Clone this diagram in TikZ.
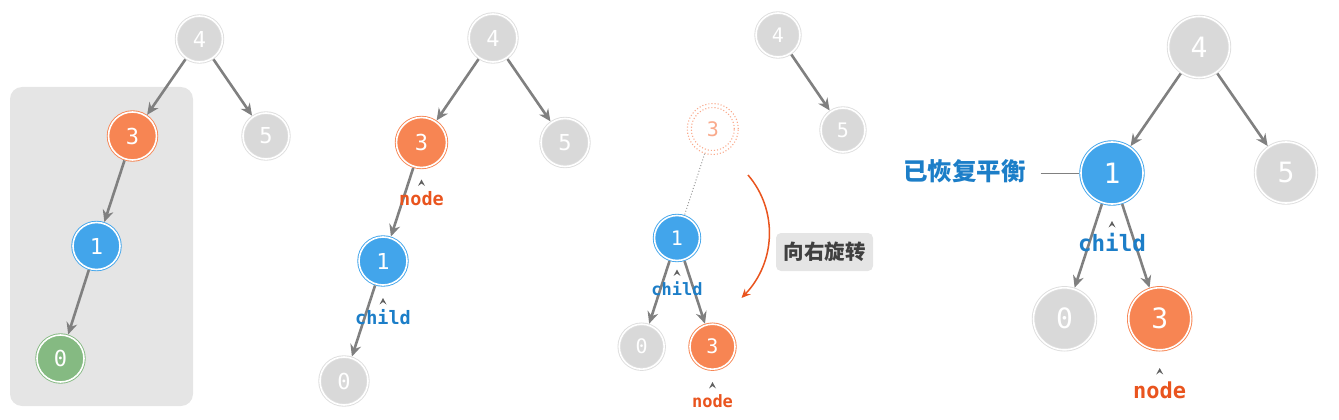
\documentclass[tikz,border=0pt]{standalone}
\usepackage{fontspec}
\setmonofont{DejaVu Sans Mono}
\newfontfamily\cjk{Noto Sans CJK SC}
\usetikzlibrary{arrows.meta,calc}
\definecolor{cgray}{RGB}{217,217,217}
\definecolor{cgrayring}{RGB}{222,222,222}
\definecolor{corange}{RGB}{247,133,83}
\definecolor{cblue}{RGB}{66,165,235}
\definecolor{cgreen}{RGB}{133,186,130}
\definecolor{cedge}{RGB}{128,128,128}
\definecolor{ctxtblue}{RGB}{28,126,200}
\definecolor{ctxtred}{RGB}{233,84,30}
\definecolor{cdot}{RGB}{249,170,140}
\definecolor{cbox}{RGB}{229,229,229}
\definecolor{cboxtxt}{RGB}{64,64,64}
\tikzset{
  tn/.style={circle, draw=#1, fill=#1, double=white, double distance=1.6pt, line width=0.9pt,
    text=white, inner sep=0pt, outer sep=1.7pt},
  gn/.style={tn=cgray, draw=cgrayring},
  sz/.style={minimum size=#1},
  fsz/.style={font=\ttfamily\fontsize{#1}{#1}\selectfont},
  edge/.style={draw=cedge, line width=2.6pt, -{Stealth[length=12pt,width=11pt,inset=4pt]}},
  lbl/.style={font=\ttfamily\bfseries\fontsize{#1}{#1}\selectfont, inner sep=0pt},
  caret/.style={fill=cedge!75!black},
  dotc/.style={draw=cdot, dotted, line width=1.1pt},
}
\newcommand{\mycaret}[1]{\fill[caret] ($(#1)+(-3.5,3.5)$) -- ($(#1)+(0,-3)$) -- ($(#1)+(3.5,3.5)$) -- ($(#1)+(0,1)$) -- cycle;}
\begin{document}
\begin{tikzpicture}[x=1pt,y=-1pt]
\useasboundingbox (0,0) rectangle (1339,420);
% ---------- panel 1 ----------
\fill[cbox, rounded corners=12pt] (10,87) rectangle (193,406);
\node[gn, sz=46pt, fsz=22] (a4) at (199.5,39) {4};
\node[tn=corange, sz=48pt, fsz=22] (a3) at (132.5,136) {3};
\node[gn, sz=46pt, fsz=22] (a5) at (266,136) {5};
\node[tn=cblue, sz=47pt, fsz=22] (a1) at (96.5,246) {1};
\node[tn=cgreen, sz=47pt, fsz=22] (a0) at (60.5,358.5) {0};
\draw[edge] (a4) -- (a3);
\draw[edge] (a4) -- (a5);
\draw[edge] (a3) -- (a1);
\draw[edge] (a1) -- (a0);
% ---------- panel 2 ----------
\node[gn, sz=48pt, fsz=22] (b4) at (493,38) {4};
\node[tn=corange, sz=50pt, fsz=22] (b3) at (421.5,142.5) {3};
\node[gn, sz=48pt, fsz=22] (b5) at (565,142.5) {5};
\node[tn=cblue, sz=48pt, fsz=22] (b1) at (383,261) {1};
\node[gn, sz=48pt, fsz=22] (b0) at (344,381) {0};
\draw[edge] (b4) -- (b3);
\draw[edge] (b4) -- (b5);
\draw[edge] (b3) -- (b1);
\draw[edge] (b1) -- (b0);
\coordinate (bc1) at (421.5,182.5);
\mycaret{bc1}
\node[lbl=18.5, text=ctxtred] (bnode) at (421.5,199) {node};
\coordinate (bc2) at (383,301);
\mycaret{bc2}
\node[lbl=18.5, text=ctxtblue] (bchild) at (383,317) {child};
% ---------- panel 3 ----------
\node[gn, sz=44pt, fsz=20] (c4) at (778,35) {4};
\node[gn, sz=44pt, fsz=20] (c5) at (843,130) {5};
\draw[edge] (c4) -- (c5);
\node[circle, dotc, minimum size=51pt, inner sep=0pt, text=cdot, font=\ttfamily\fontsize{20}{20}\selectfont] (c3d) at (712.8,129) {3};
\draw[dotc] (c3d.center) circle (21.5pt);
\node[tn=cblue, sz=45pt, fsz=20] (c1) at (677,238) {1};
\node[gn, sz=45pt, fsz=20] (c0) at (641.7,346.7) {0};
\node[tn=corange, sz=45pt, fsz=20] (c3) at (712.5,346.7) {3};
\draw[cedge!80, dotted, line width=1pt] (c3d) -- (c1);
\draw[edge] (c1) -- (c0);
\draw[edge] (c1) -- (c3);
\coordinate (cc1) at (677,272.5);
\mycaret{cc1}
\node[lbl=17, text=ctxtblue] (cchild) at (677,289) {child};
\coordinate (cc2) at (712.5,385);
\mycaret{cc2}
\node[lbl=17, text=ctxtred] (cnode) at (712.5,401) {node};
\coordinate (rs) at (748,175);
\coordinate (re) at (741.5,298);
\draw[ctxtred, line width=1.5pt, -{Stealth[length=9pt,width=8pt,inset=3pt]}] (rs) .. controls (778,210) and (776,262) .. (re);
\node[fill=cbox, rounded corners=5pt, minimum width=97pt, minimum height=38pt, inner sep=0pt,
  text=cboxtxt, font=\cjk\bfseries\fontsize{20.5}{20.5}\selectfont] (crot) at (824.5,252) {向右旋转};
% ---------- panel 4 ----------
\node[gn, sz=61pt, fsz=28] (d4) at (1199,47) {4};
\node[gn, sz=61pt, fsz=28] (d5) at (1286,172.5) {5};
\node[tn=cblue, sz=62pt, fsz=28] (d1) at (1112,173) {1};
\node[gn, sz=62pt, fsz=28] (d0) at (1064.5,318.8) {0};
\node[tn=corange, sz=62pt, fsz=28] (d3) at (1159.7,318.8) {3};
\draw[edge] (d4) -- (d1);
\draw[edge] (d4) -- (d5);
\draw[edge] (d1) -- (d0);
\draw[edge] (d1) -- (d3);
\coordinate (dc1) at (1112,224);
\mycaret{dc1}
\node[lbl=22.5, text=ctxtblue] (dchild) at (1112,243) {child};
\coordinate (dc2) at (1159.7,371);
\mycaret{dc2}
\node[lbl=22, text=ctxtred] (dnode) at (1159.7,390) {node};
\node[inner sep=0pt, text=ctxtblue, font=\cjk\bfseries\fontsize{24.5}{24.5}\selectfont] (dbal) at (964.7,171.5) {已恢复平衡};
\coordinate (dl) at (1040.7,173);
\draw[cedge, line width=0.9pt] (dl) -- (d1.west);
\end{tikzpicture}
\end{document}
